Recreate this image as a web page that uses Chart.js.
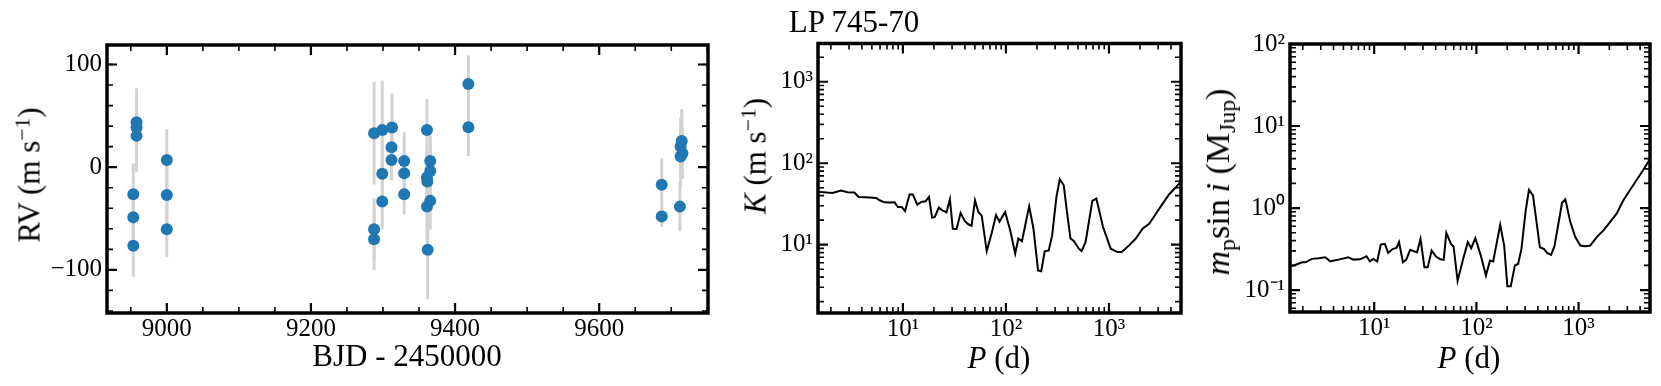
<!DOCTYPE html>
<html>
<head>
<meta charset="utf-8">
<script src="https://cdn.jsdelivr.net/npm/chart.js@4.4.1/dist/chart.umd.min.js"></script>
<style>
    body { margin: 0; background: #fff; }
    #wrap { position: relative; width: 1661px; height: 386px; overflow: hidden; font-family: "Liberation Serif", "Times New Roman", serif; color: #000; }
    #wrap canvas { position: absolute; top: 0; }
    .lbl { position: absolute; white-space: nowrap; font-size: 31px; line-height: 1; transform: translate(-50%, -50%); }
    .rot { transform: translate(-50%, -50%) rotate(-90deg); }
    .lbl sup { font-size: 0.7em; vertical-align: 0.45em; line-height: 0; }
    .lbl sub { font-size: 0.7em; vertical-align: -0.25em; line-height: 0; }
</style>
</head>
<body>
<div id="wrap">
    <canvas id="rvChart" width="720" height="386" style="left:0px"></canvas>
    <canvas id="kChart" width="480" height="386" style="left:720px"></canvas>
    <canvas id="massChart" width="461" height="386" style="left:1200px"></canvas>

    <div class="lbl" style="left:854px; top:21px;">LP 745-70</div>
    <div class="lbl rot" style="left:29px; top:175px;">RV (m s<sup>−1</sup>)</div>
    <div class="lbl" style="left:407px; top:355px;">BJD - 2450000</div>
    <div class="lbl rot" style="left:755px; top:156px;"><i>K</i> (m s<sup>−1</sup>)</div>
    <div class="lbl" style="left:999px; top:357px;"><i>P</i> (d)</div>
    <div class="lbl rot" style="left:1218px; top:182px; font-size:34px;"><i>m</i><sub>p</sub>sin<i>&#8201;i</i> (M<sub>Jup</sub>)</div>
    <div class="lbl" style="left:1469px; top:357px;"><i>P</i> (d)</div>
</div>

<script>
// RV time series (BJD - 2450000, m/s)
const bjd = [8953.5, 8953.5, 8953.5, 8958, 8958, 8958, 9000, 9000, 9000,
    9287.6, 9287.6, 9287.6, 9299, 9299, 9299, 9312.5, 9311.8, 9311.8,
    9329.4, 9329.4, 9329.4, 9361, 9361, 9361.5, 9361, 9362, 9365.6, 9365.6, 9365.6,
    9418.5, 9418.5, 9686.8, 9686.8, 9714.6, 9713, 9715.5, 9713, 9712];
const rv = [-26.3, -48.7, -76.6, 43.8, 38.6, 30.5, 7.1, -27.0, -60.4,
    33.1, -60.4, -70.1, 36.3, -6.5, -33.5, 38.6, 19.5, 7.1,
    6.1, -5.8, -26.3, 36.3, -10.1, -14.0, -38.4, -80.5, 6.1, -3.6, -32.8,
    81.1, 38.9, -17.2, -48.1, 25.6, 20.1, 13.6, 10.3, -38.4];
const rvErr = [30, 28, 30, 33, 30, 35, 30, 28, 27,
    50, 30, 30, 48, 30, 27, 33, 25, 20,
    28, 22, 20, 30, 25, 30, 35, 48, 25, 30, 28,
    28, 28, 26, 10, 31, 28, 25, 30, 24];

// Detection limit curves
const periodK = [1.5, 1.57, 1.85, 2.07, 2.51, 2.9, 3.38, 3.72, 4.23, 4.73, 5.5, 5.93, 6.63, 7.41, 8.3, 8.94, 9.78,
    10.5, 11.6, 12.5, 13.8, 15.1, 16.6, 17.9, 19.2, 20.4, 22.3, 24.2, 26.5, 28.6, 30.5, 33.2, 36.3, 40, 43.1, 46.4,
    50.1, 54, 58.2, 65.1, 72.8, 80.2, 86.5, 98.2, 110, 123, 132, 143, 168, 185, 205, 220, 238, 260, 281, 309, 333,
    364, 393, 423, 456, 510, 542, 593, 689, 754, 875, 1040, 1208, 1331, 1567, 1821, 2117, 2455, 2855, 3318, 3848,
    4477, 5000];
const semiAmp = [44.5, 44.4, 43.6, 43.2, 46.1, 44.0, 43.6, 38.5, 38.2, 37.9, 37.4, 35.1, 33.1, 32.9, 33.1, 29.0, 29.0,
    25.9, 41.2, 41.2, 31.0, 33.4, 34.1, 38.5, 21.5, 21.9, 28.5, 26.4, 25.0, 36.1, 15.7, 15.6, 24.5, 19.4, 17.8, 17.1,
    35.1, 25.2, 22.7, 8.34, 13.9, 23.1, 19.2, 25.2, 15.0, 7.74, 11.9, 11.0, 29.6, 15.7, 4.83, 4.73, 8.28, 8.51, 13.0, 38.5, 63.5,
    53.6, 24.0, 11.9, 11.1, 8.93, 8.34, 10.8, 34.4, 36.8, 16.5, 8.93, 8.11, 8.11, 9.8, 11.9, 15.7, 18.1, 24.0, 31.9, 41.6,
    51.0, 60.0];

const periodM = [1.5, 1.64, 1.97, 2.12, 2.46, 2.86, 3.32, 3.71, 4.47, 5.59, 6.25, 7.26, 8.42, 9.08, 9.78,
    10.7, 11.6, 12.7, 13.7, 15.3, 16.5, 17.5, 19.1, 20.6, 22.5, 24.8, 26.3, 28.4, 31, 33.4, 36.5, 40.3, 44.4, 47.9,
    50.8, 56.4, 59.8, 65.5, 74.3, 82.4, 88.9, 97.8, 111, 124, 136, 146, 171, 187, 201, 217, 238, 256, 276, 304, 327,
    358, 388, 418, 457, 492, 538, 581, 689, 743, 830, 929, 1040, 1162, 1300, 1507, 1750, 2032, 2357, 2737, 3177,
    3684, 4276, 5000];
const minMass = [0.197, 0.199, 0.218, 0.218, 0.240, 0.244, 0.251, 0.224, 0.235, 0.251, 0.235, 0.237, 0.258, 0.224, 0.240,
    0.223, 0.359, 0.366, 0.284, 0.318, 0.327, 0.384, 0.218, 0.235, 0.309, 0.295, 0.289, 0.421, 0.190, 0.190, 0.303, 0.256, 0.237, 0.233,
    0.499, 0.366, 0.340, 0.130, 0.240, 0.384, 0.324, 0.430, 0.258, 0.150, 0.229, 0.223, 0.625, 0.349, 0.111, 0.111, 0.199, 0.208, 0.318, 0.936, 1.67,
    1.43, 0.674, 0.333, 0.318, 0.284, 0.268, 0.343, 1.16, 1.28, 0.674, 0.442, 0.349, 0.343, 0.349, 0.442, 0.533, 0.674, 0.853, 1.24, 1.65,
    2.18, 2.89, 3.95];

// Tick labels
const bjdTicks = [9000, 9200, 9400, 9600];
const rvTicks = [-100, 0, 100];
const periodTicks = [10, 100, 1000];
const kTicks = [10, 100, 1000];
const massTicks = [0.1, 1, 10, 100];

const tickFont = { family: '"Liberation Serif", "Times New Roman", serif', size: 25 };
const supDigits = { '-': '⁻', '0': '⁰', '1': '¹', '2': '²', '3': '³', '4': '⁴' };

function powLabel(v) {
    const e = String(Math.round(Math.log10(v)));
    return '10' + e.split('').map(c => supDigits[c]).join('');
}

function linearLabel(v) {
    return v < 0 ? '\u2212' + Math.abs(v) : String(v);
}

// Minor/major tick positions for the inward tick marks
function linearMarks(min, max, step) {
    const out = [];
    for (let v = Math.ceil(min / step) * step; v <= max; v += step) out.push(v);
    return out;
}

function logMarks(min, max, minor) {
    const out = [];
    for (let e = Math.floor(Math.log10(min)); e <= Math.ceil(Math.log10(max)); e++) {
        const ks = minor ? [2, 3, 4, 5, 6, 7, 8, 9] : [1];
        ks.forEach(k => {
            const v = k * Math.pow(10, e);
            if (v >= min * 0.9999 && v <= max * 1.0001) out.push(v);
        });
    }
    return out;
}

// Draws the boxed frame and matplotlib-style inward ticks on all four sides
const framePlugin = {
    id: 'frameTicks',
    afterDatasetsDraw(chart, args, opts) {
        const ctx = chart.ctx;
        const a = chart.chartArea;
        const xs = chart.scales.x, ys = chart.scales.y;
        ctx.save();
        ctx.strokeStyle = '#000';
        ctx.lineCap = 'butt';

        function drawX(vals, len, w) {
            ctx.lineWidth = w;
            vals.forEach(v => {
                const p = xs.getPixelForValue(v);
                ctx.beginPath();
                ctx.moveTo(p, a.bottom); ctx.lineTo(p, a.bottom - len);
                ctx.moveTo(p, a.top); ctx.lineTo(p, a.top + len);
                ctx.stroke();
            });
        }
        function drawY(vals, len, w) {
            ctx.lineWidth = w;
            vals.forEach(v => {
                const p = ys.getPixelForValue(v);
                ctx.beginPath();
                ctx.moveTo(a.left, p); ctx.lineTo(a.left + len, p);
                ctx.moveTo(a.right, p); ctx.lineTo(a.right - len, p);
                ctx.stroke();
            });
        }
        drawX(opts.xMinor, 6, 1.6);
        drawX(opts.xMajor, 10, 2.2);
        drawY(opts.yMinor, 6, 1.6);
        drawY(opts.yMajor, 10, 2.2);

        ctx.lineWidth = 3.5;
        ctx.strokeRect(a.left, a.top, a.right - a.left, a.bottom - a.top);
        ctx.restore();
    }
};

// Light grey error bars behind the RV points
const errorBarPlugin = {
    id: 'errorBars',
    beforeDatasetsDraw(chart) {
        const ctx = chart.ctx;
        const xs = chart.scales.x, ys = chart.scales.y;
        ctx.save();
        ctx.strokeStyle = '#d3d3d3';
        ctx.lineWidth = 3;
        bjd.forEach((t, i) => {
            const px = xs.getPixelForValue(t);
            ctx.beginPath();
            ctx.moveTo(px, ys.getPixelForValue(rv[i] - rvErr[i]));
            ctx.lineTo(px, ys.getPixelForValue(rv[i] + rvErr[i]));
            ctx.stroke();
        });
        ctx.restore();
    }
};

function fixedAxis(size, horizontal) {
    return function(scale) {
        if (horizontal) scale.height = size;
        else scale.width = size;
    };
}

function axisOptions(type, min, max, ticks, label, size, horizontal) {
    return {
        type: type,
        min: min,
        max: max,
        grid: { display: false, drawTicks: false },
        border: { display: false },
        afterBuildTicks: function(scale) {
            scale.ticks = ticks.map(v => ({ value: v }));
        },
        afterFit: fixedAxis(size, horizontal),
        ticks: {
            font: tickFont,
            color: '#000',
            padding: horizontal ? 1 : 5,
            maxRotation: 0,
            autoSkip: false,
            callback: label
        }
    };
}

Chart.defaults.animation = false;

// Panel 1: radial velocities
const rvLimits = { xMin: 8917, xMax: 9751, yMin: -142, yMax: 119 };
new Chart(document.getElementById('rvChart'), {
    type: 'scatter',
    data: {
        datasets: [{
            data: bjd.map((t, i) => ({ x: t, y: rv[i] })),
            backgroundColor: '#1f77b4',
            borderWidth: 0,
            pointRadius: 6,
            pointHoverRadius: 6
        }]
    },
    options: {
        responsive: false,
        layout: { padding: { left: 0, right: 12, top: 45, bottom: 0 } },
        plugins: {
            legend: { display: false },
            tooltip: { enabled: false },
            frameTicks: {
                xMajor: linearMarks(rvLimits.xMin, rvLimits.xMax, 200),
                xMinor: linearMarks(rvLimits.xMin, rvLimits.xMax, 50),
                yMajor: linearMarks(rvLimits.yMin, rvLimits.yMax, 100),
                yMinor: linearMarks(rvLimits.yMin, rvLimits.yMax, 20)
            }
        },
        scales: {
            x: axisOptions('linear', rvLimits.xMin, rvLimits.xMax, bjdTicks, v => String(v), 73, true),
            y: axisOptions('linear', rvLimits.yMin, rvLimits.yMax, rvTicks, linearLabel, 107, false)
        }
    },
    plugins: [errorBarPlugin, framePlugin]
});

// Panels 2 and 3: detection limits
function limitChart(id, periods, values, yMin, yMax, yTicks, yWidth, pad, xHeight) {
    const pMin = 1.5, pMax = 5000;
    return new Chart(document.getElementById(id), {
        type: 'line',
        data: {
            datasets: [{
                data: periods.map((p, i) => ({ x: p, y: values[i] })),
                borderColor: '#000',
                borderWidth: 2,
                pointRadius: 0,
                tension: 0,
                fill: false
            }]
        },
        options: {
            responsive: false,
            layout: { padding: pad },
            plugins: {
                legend: { display: false },
                tooltip: { enabled: false },
                frameTicks: {
                    xMajor: logMarks(pMin, pMax, false),
                    xMinor: logMarks(pMin, pMax, true),
                    yMajor: logMarks(yMin, yMax, false),
                    yMinor: logMarks(yMin, yMax, true)
                }
            },
            scales: {
                x: axisOptions('logarithmic', pMin, pMax, periodTicks, powLabel, xHeight, true),
                y: axisOptions('logarithmic', yMin, yMax, yTicks, powLabel, yWidth, false)
            }
        },
        plugins: [framePlugin]
    });
}

limitChart('kChart', periodK, semiAmp, 1.45, 2950, kTicks, 98,
    { left: 0, right: 19, top: 43.5, bottom: 0 }, 73);
limitChart('massChart', periodM, minMass, 0.054, 100, massTicks, 90,
    { left: 0, right: 11, top: 44, bottom: 0 }, 74);
</script>
</body>
</html>
